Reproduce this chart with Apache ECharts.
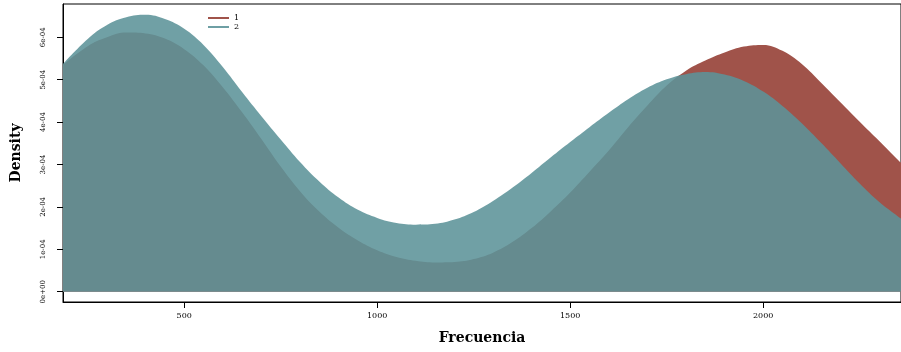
<!DOCTYPE html>
<html>
<head>
<meta charset="utf-8">
<script src="https://cdn.jsdelivr.net/npm/echarts@6/dist/echarts.min.js"></script>
<style>html,body{margin:0;padding:0;background:#fff;}#c{width:901px;height:352px;}</style>
</head>
<body>
<div id="c"></div>
<script>
// x grid (Frecuencia)
const xValues = [186,250,300,350,400,450,500,550,600,650,700,750,800,850,900,950,1000,1050,1100,1150,1200,1250,1300,1350,1400,1450,1500,1550,1600,1650,1700,1750,1800,1850,1900,1950,2000,2050,2100,2150,2200,2250,2300,2350,2358];
// density of group 1 (x 1e-4)
const dens1 = [5.35,5.79,6.00,6.11,6.09,5.97,5.72,5.34,4.82,4.23,3.60,2.95,2.37,1.89,1.51,1.21,0.98,0.82,0.73,0.69,0.70,0.77,0.92,1.17,1.50,1.90,2.34,2.83,3.33,3.88,4.39,4.86,5.21,5.45,5.64,5.78,5.82,5.68,5.37,4.93,4.47,4.01,3.56,3.10,3.03];
// density of group 2 (x 1e-4)
const dens2 = [5.37,5.96,6.29,6.47,6.53,6.43,6.20,5.82,5.30,4.71,4.14,3.59,3.06,2.60,2.22,1.93,1.74,1.62,1.58,1.60,1.70,1.88,2.14,2.45,2.80,3.17,3.53,3.88,4.22,4.54,4.81,5.01,5.13,5.18,5.12,4.97,4.72,4.38,3.97,3.51,3.03,2.55,2.12,1.77,1.72];
const seriesNames = ['1','2'];
const xTicks = [500,1000,1500,2000];
const yTicks = [0,0.0001,0.0002,0.0003,0.0004,0.0005,0.0006];
const yTickLabels = ['0e+00','1e-04','2e-04','3e-04','4e-04','5e-04','6e-04'];

const toPairs = (arr) => xValues.map((x,i)=>[x, arr[i]*1e-4]);
const font = "'DejaVu Serif', 'Liberation Serif', serif";

const chart = echarts.init(document.getElementById('c'), null, {renderer:'canvas'});
chart.setOption({
  animation:false,
  backgroundColor:'#fff',
  grid:{left:63, right:-2, top:4, bottom:50, show:true, borderColor:'#000', borderWidth:1, backgroundColor:'transparent'},
  legend:{
    orient:'vertical', left:203, top:9, itemGap:1, itemWidth:21, itemHeight:2, icon:'rect',
    textStyle:{fontFamily:font, fontSize:8, color:'#000', padding:[0,0,0,0]},
    data:seriesNames
  },
  xAxis:{
    type:'value', min:186, max:2357,
    name:'Frecuencia', nameLocation:'middle', nameGap:29,
    nameTextStyle:{fontFamily:font, fontSize:14, fontWeight:'bold', color:'#000'},
    axisLine:{show:true, onZero:false, lineStyle:{color:'#000', width:1}},
    axisTick:{show:true, length:6, lineStyle:{color:'#000'}, customValues:xTicks},
    axisLabel:{fontFamily:font, fontSize:8, color:'#000', margin:10, customValues:xTicks, formatter:(v)=>String(v)},
    splitLine:{show:false}
  },
  yAxis:{
    type:'value', min:-0.0000243, max:0.0006785,
    name:'Density', nameLocation:'middle', nameGap:40,
    nameTextStyle:{fontFamily:font, fontSize:14, fontWeight:'bold', color:'#000'},
    axisLine:{show:true, onZero:false, lineStyle:{color:'#000', width:1}},
    axisTick:{show:true, length:6, lineStyle:{color:'#000'}, customValues:yTicks},
    axisLabel:{fontFamily:font, fontSize:7, color:'#000', margin:16, rotate:90, customValues:yTicks,
      formatter:(v)=>{ const i = yTicks.findIndex(t=>Math.abs(t-v)<1e-9); return i>=0 ? yTickLabels[i] : ''; }},
    splitLine:{show:false}
  },
  series:[
    {name:seriesNames[0], type:'line', data:toPairs(dens1), smooth:0.4, showSymbol:false, symbol:'none',
     itemStyle:{color:'#A0534A'}, lineStyle:{width:0, color:'#A0534A'}, areaStyle:{color:'#A0534A', opacity:1}},
    {name:seriesNames[1], type:'line', data:toPairs(dens2), smooth:0.4, showSymbol:false, symbol:'none',
     itemStyle:{color:'#6E9FA4'}, lineStyle:{width:0, color:'#6E9FA4'}, areaStyle:{color:'rgb(92,147,153)', opacity:0.88}}
  ]
});
</script>
</body>
</html>
